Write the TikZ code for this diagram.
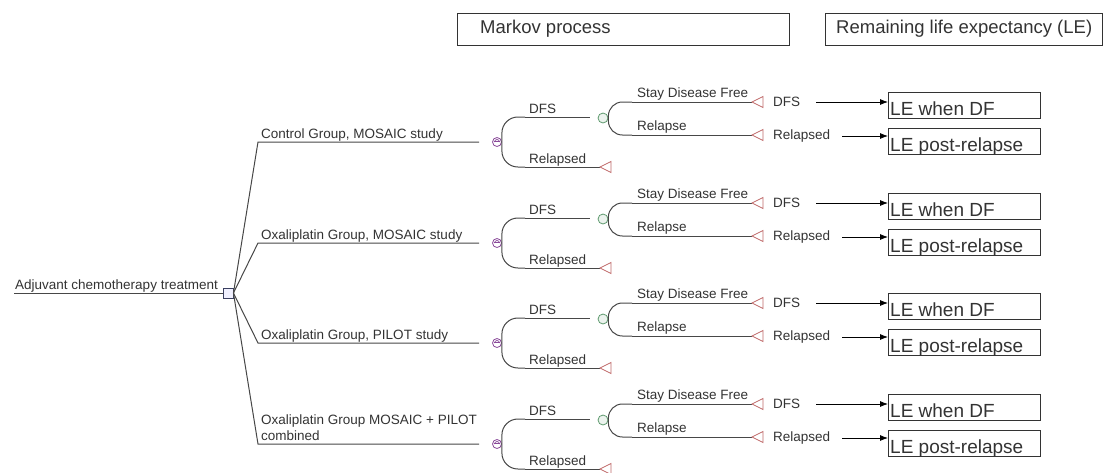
\documentclass[tikz,border=0pt]{standalone}
\usepackage{fontspec}
\setmainfont{Liberation Sans}
\usetikzlibrary{arrows.meta}
\definecolor{ink}{HTML}{333333}
\definecolor{tri}{HTML}{C06A6A}
\definecolor{mk}{HTML}{8A4A9A}
\definecolor{grn}{HTML}{5E9A6E}
\definecolor{sqc}{HTML}{3A4060}
\begin{document}
\begin{tikzpicture}[x=1pt,y=-1pt,
  ln/.style={draw=ink!90, line width=1pt},
  lbl/.style={font=\fontsize{13.5}{16}\selectfont, text=ink, inner sep=0pt, anchor=base west},
  hdr/.style={draw=black!80, line width=0.9pt, anchor=north west, minimum height=32pt, inner xsep=0pt},
  hdrtext/.style={font=\fontsize{18.5}{22}\selectfont, text=ink, inner sep=0pt, anchor=west},
  lebox/.style={draw=black!80, line width=0.9pt, anchor=west, minimum width=152pt, minimum height=26pt},
  letext/.style={font=\fontsize{19}{22}\selectfont, text=ink, inner sep=0pt, anchor=base west},
  arr/.style={draw=black, line width=0.8pt, -{Latex[length=8pt,width=6pt]}},
  mknode/.style={circle, draw=mk, line width=0.8pt, minimum size=9pt, inner sep=0pt},
  grnode/.style={circle, draw=grn, line width=0.8pt, fill=grn!12, minimum size=10pt, inner sep=0pt},
  termtri/.style={draw=tri, line width=0.8pt, fill=white}
]
\useasboundingbox (0,0) rectangle (1103,472);

% headers
\node[hdr, minimum width=332pt] (mp) at (457,13) {};
\node[hdrtext] (mpt) at (480,29) {Markov process};
\node[hdr, minimum width=277pt] (rl) at (825,13) {};
\node[hdrtext] (rlt) at (836,29) {Remaining life expectancy (LE)};

% root
\coordinate (rootstart) at (14,293);
\node[draw=sqc, fill=blue!6, line width=0.9pt, minimum size=10pt, inner sep=0pt] (sq) at (228,293) {};
\draw[ln] (rootstart) -- (sq.west);
\node[lbl] (roottxt) at (15,289) {Adjuvant chemotherapy treatment};

\foreach \g/\Y in {1/142,2/243,3/343,4/444}{
  % group branch
  \coordinate (corner\g) at (258,\Y);
  \coordinate (gend\g) at (479,\Y);
  \draw[ln] (sq.east) -- (corner\g) -- (gend\g);
  % markov node
  \node[mknode] (m\g) at (497,\Y) {};
  \draw[mk, line width=0.7pt] ([xshift=-2.5pt]m\g.center) arc[start angle=180, end angle=0, radius=2.5pt];
  \draw[mk, line width=0.7pt] ([xshift=-3pt,yshift=0.8pt]m\g.center) -- ([xshift=3pt,yshift=0.8pt]m\g.center);
  % bracket from markov node
  \coordinate (dfsA\g) at (525,\Y-25);
  \coordinate (dfsB\g) at (590,\Y-25);
  \coordinate (relA\g) at (525,\Y+25);
  \coordinate (relB\g) at (600,\Y+25);
  \draw[ln, rounded corners=16pt] (dfsA\g) -- (m\g.east |- dfsA\g) -- (m\g.east |- relA\g) -- (relA\g);
  \draw[ln] (dfsA\g) -- (dfsB\g);
  \draw[ln] (relA\g) -- (relB\g);
  \draw[termtri] (relB\g) -- ++(11,-5.5) -- ++(0,11) -- cycle;
  \node[lbl] (dfsl\g) at (529,\Y-29) {DFS};
  \node[lbl] (rell\g) at (529,\Y+21) {Relapsed};
  % chance node
  \node[grnode] (c\g) at (603,\Y-24) {};
  \coordinate (sdfA\g) at (632,\Y-40);
  \coordinate (sdfB\g) at (752,\Y-40);
  \coordinate (rlpA\g) at (632,\Y-7);
  \coordinate (rlpB\g) at (752,\Y-7);
  \draw[ln, rounded corners=14pt] (sdfA\g) -- (c\g.east |- sdfA\g) -- (c\g.east |- rlpA\g) -- (rlpA\g);
  \draw[ln] (sdfA\g) -- (sdfB\g);
  \draw[ln] (rlpA\g) -- (rlpB\g);
  \draw[termtri] (sdfB\g) -- ++(11,-5.5) -- ++(0,11) -- cycle;
  \draw[termtri] (rlpB\g) -- ++(11,-5.5) -- ++(0,11) -- cycle;
  \node[lbl] (sdfl\g) at (637,\Y-45) {Stay Disease Free};
  \node[lbl] (rlpl\g) at (637,\Y-12) {Relapse};
  % outcome labels
  \node[lbl, anchor=west] (o1\g) at (773,\Y-40) {DFS};
  \node[lbl, anchor=west] (o2\g) at (773,\Y-6) {Relapsed};
  % LE boxes
  \node[lebox] (b1\g) at (888,\Y-37) {};
  \node[lebox] (b2\g) at (888,\Y-1) {};
  \node[letext] (t1\g) at ([xshift=2pt,yshift=3pt]b1\g.south west) {LE when DF};
  \node[letext] (t2\g) at ([xshift=2pt,yshift=3pt]b2\g.south west) {LE post-relapse};
  \draw[arr] ([xshift=16pt]o1\g.east) -- (b1\g.west |- o1\g.east);
  \draw[arr] ([xshift=12pt]o2\g.east) -- (b2\g.west |- o2\g.east);
}
\node[lbl] (g1) at (261,138) {Control Group, MOSAIC study};
\node[lbl] (g2) at (261,239) {Oxaliplatin Group, MOSAIC study};
\node[lbl] (g3) at (261,339) {Oxaliplatin Group, PILOT study};
\node[lbl] (g4a) at (261,424) {Oxaliplatin Group MOSAIC + PILOT};
\node[lbl] (g4b) at (261,440) {combined};
\end{tikzpicture}
\end{document}
